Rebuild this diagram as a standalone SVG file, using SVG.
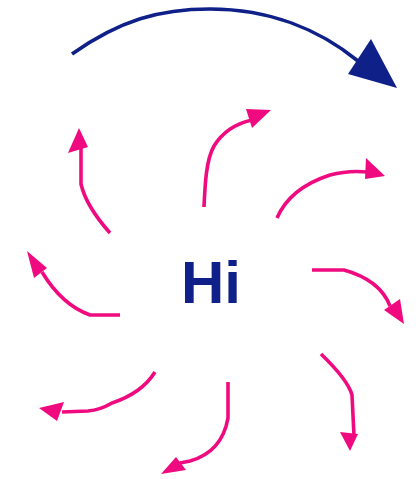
<svg xmlns="http://www.w3.org/2000/svg" width="416" height="479" viewBox="0 0 416 479">
<style>
.pk{fill:none;stroke:#f00a80;stroke-width:3.6;stroke-linecap:butt;stroke-linejoin:round}
.pkh{fill:#f00a80;stroke:none}
.bl{fill:none;stroke:#0f2088;stroke-width:3.6}
.blh{fill:#0f2088}
.lbl{font-family:"Liberation Sans",Arial,sans-serif;font-weight:bold;font-size:60px;fill:#0f2088}
</style>
<rect width="416" height="479" fill="#ffffff"/>
<g id="center"><text class="lbl" x="181" y="303">Hi</text></g>
<g id="connectors">
<g id="top-arc">
<path class="bl" d="M72,54 C120,20 160,9 210,9 C270,9 320,30 358,61"/>
<polygon class="blh" points="371,39 397,88 348,74"/>
</g>
<g id="a1">
<path class="pk" d="M204,207 C205,185 206,160 214,146 C222,133 234,124 252,120"/>
<polygon class="pkh" points="271,110 246,109 252,128"/>
</g>
<g id="a2">
<path class="pk" d="M110,233 Q86,206 81,184 L81,148"/>
<polygon class="pkh" points="79,128 88,147 68,153"/>
</g>
<g id="a3">
<path class="pk" d="M120,315 L90,315 Q62,305 42,272"/>
<polygon class="pkh" points="27,251 47,268 34,278"/>
</g>
<g id="a4">
<path class="pk" d="M155,372 Q142,393 112,403 Q100,410 88,411 L62,412"/>
<polygon class="pkh" points="39,408 64,402 57,421"/>
</g>
<g id="a5">
<path class="pk" d="M228,382 L228,418 Q222,452 190,461 L180,463"/>
<polygon class="pkh" points="161,474 176,457 186,470"/>
</g>
<g id="a6">
<path class="pk" d="M321,354 Q348,380 352,395 L354,436"/>
<polygon class="pkh" points="350,451 340,432 358,434"/>
</g>
<g id="a7">
<path class="pk" d="M312,270 L344,270 Q380,280 390,306"/>
<polygon class="pkh" points="404,324 384,310 400,299"/>
</g>
<g id="a8">
<path class="pk" d="M277,218 Q290,188 330,175 Q348,170 368,172"/>
<polygon class="pkh" points="385,176 366,158 365,179"/>
</g>
</g>
</svg>
